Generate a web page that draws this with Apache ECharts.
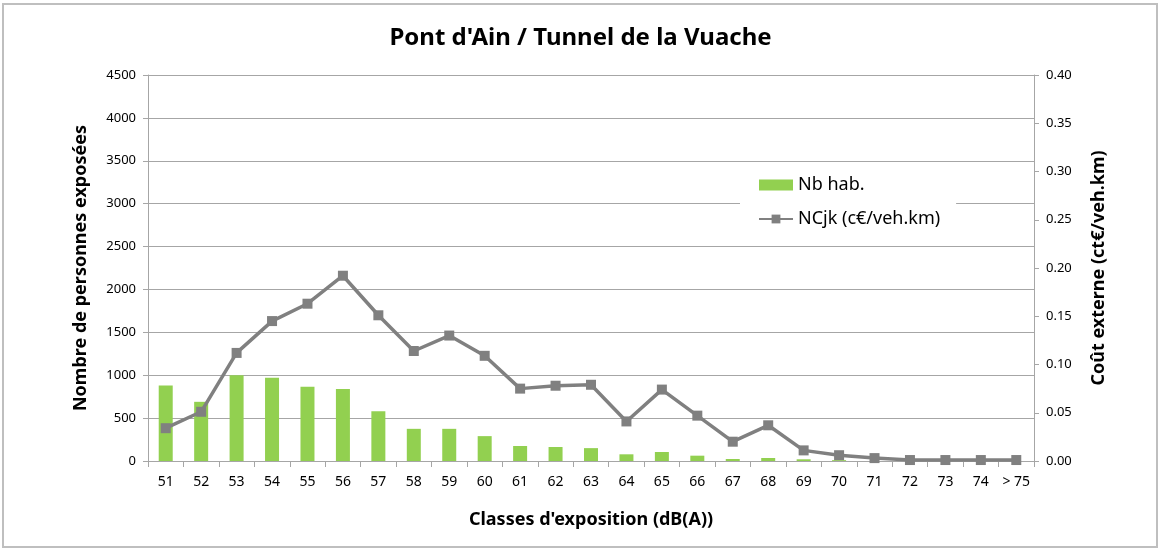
<!DOCTYPE html>
<html>
<head>
<meta charset="utf-8">
<script src="https://cdn.jsdelivr.net/npm/echarts@6/dist/echarts.min.js"></script>
<style>
  html, body { margin: 0; padding: 0; background: #fff; }
  #chart { width: 1161px; height: 550px; }
</style>
</head>
<body>
<div id="chart"></div>
<script>
const categories = ['51', '52', '53', '54', '55', '56', '57', '58', '59', '60', '61', '62', '63',
    '64', '65', '66', '67', '68', '69', '70', '71', '72', '73', '74', '> 75'];
const nbHab = [880, 690, 1000, 970, 865, 840, 580, 375, 375, 290, 175, 163, 150,
    78, 105, 62, 23, 35, 20, 10, 0, 0, 0, 0, 0];
const ncjk = [0.034, 0.051, 0.112, 0.145, 0.163, 0.192, 0.151, 0.114, 0.130, 0.109, 0.075, 0.078, 0.079,
    0.041, 0.074, 0.047, 0.020, 0.037, 0.011, 0.006, 0.003, 0.001, 0.001, 0.001, 0.001];

const font = 'Noto Sans';
const axisGray = '#a6a6a6';

const chart = echarts.init(document.getElementById('chart'));
chart.setOption({
    animation: false,
    textStyle: { fontFamily: font, color: '#000' },
    title: {
        text: "Pont d'Ain / Tunnel de la Vuache",
        left: 'center',
        top: 21,
        textStyle: { fontFamily: font, fontSize: 24, fontWeight: 'bold', color: '#000' }
    },
    graphic: [{
        type: 'rect',
        shape: { x: 3, y: 4, width: 1154, height: 543 },
        style: { fill: 'none', stroke: '#bfbfbf', lineWidth: 2 },
        silent: true,
        z: -1
    }],
    legend: {
        orient: 'vertical',
        left: 740,
        top: 170,
        itemGap: 16,
        itemWidth: 34,
        itemHeight: 11,
        padding: [6, 16, 8, 18],
        backgroundColor: '#fff',
        textStyle: { fontFamily: font, fontSize: 18, color: '#000' },
        data: [
            { name: 'Nb hab.', icon: 'rect' },
            { name: 'NCjk (c€/veh.km)' }
        ]
    },
    grid: { left: 148, right: 127, top: 75, bottom: 89 },
    xAxis: {
        type: 'category',
        data: categories,
        name: "Classes d'exposition (dB(A))",
        nameLocation: 'middle',
        nameGap: 50,
        nameTextStyle: { fontFamily: font, fontSize: 18, fontWeight: 'bold', color: '#000' },
        axisLine: { lineStyle: { color: axisGray } },
        axisTick: { show: true, alignWithLabel: false, length: 6, lineStyle: { color: axisGray } },
        axisLabel: { fontFamily: font, fontSize: 14, color: '#000', margin: 14, interval: 0 }
    },
    yAxis: [{
        type: 'value',
        min: 0,
        max: 4500,
        interval: 500,
        name: 'Nombre de personnes exposées',
        nameLocation: 'middle',
        nameGap: 58,
        nameTextStyle: { fontFamily: font, fontSize: 18, fontWeight: 'bold', color: '#000' },
        axisLine: { show: true, lineStyle: { color: axisGray } },
        axisTick: { show: true, length: 5, lineStyle: { color: axisGray } },
        axisLabel: { fontFamily: font, fontSize: 13, color: '#000', margin: 12,
            formatter: v => String(v) },
        splitLine: { lineStyle: { color: axisGray, width: 1 } }
    }, {
        type: 'value',
        min: 0,
        max: 0.4,
        interval: 0.05,
        name: 'Coût externe (ct€/veh.km)',
        nameLocation: 'middle',
        nameGap: 56,
        nameRotate: 90,
        nameTextStyle: { fontFamily: font, fontSize: 18, fontWeight: 'bold', color: '#000' },
        axisLine: { show: true, lineStyle: { color: axisGray } },
        axisTick: { show: true, length: 5, lineStyle: { color: axisGray } },
        axisLabel: { fontFamily: font, fontSize: 13, color: '#000', margin: 12,
            formatter: v => v.toFixed(2) },
        splitLine: { show: false }
    }],
    series: [{
        name: 'Nb hab.',
        type: 'bar',
        yAxisIndex: 0,
        data: nbHab,
        barWidth: 14,
        itemStyle: { color: '#92d050' }
    }, {
        name: 'NCjk (c€/veh.km)',
        type: 'line',
        yAxisIndex: 1,
        data: ncjk,
        symbol: 'rect',
        symbolSize: 10,
        lineStyle: { color: '#808080', width: 3.5 },
        itemStyle: { color: '#808080' },
        z: 3
    }]
});
</script>
</body>
</html>
